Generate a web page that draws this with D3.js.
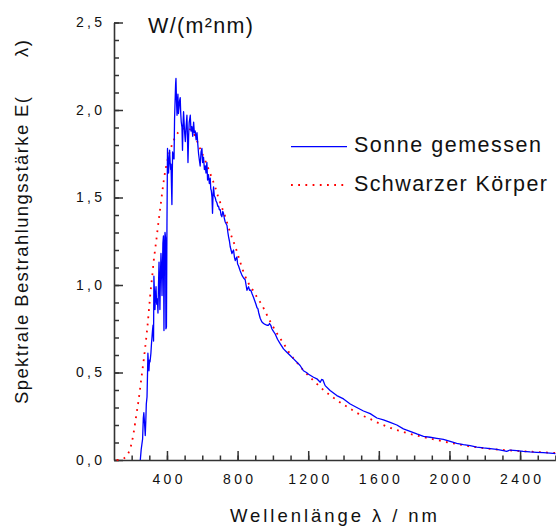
<!DOCTYPE html>
<html>
<head>
<meta charset="utf-8">
<script src="https://cdn.jsdelivr.net/npm/d3@7"></script>
<style>
  body { margin: 0; background: #fff; }
  text { font-family: "Liberation Sans", Arial, sans-serif; fill: #111; }
</style>
</head>
<body>
<div id="chart"></div>
<script>
// measured solar spectrum: [wavelength nm, E in W/(m²nm)]
const sunMeasured = [
  [249,0.00],[254,0.06],[258,0.09],[262,0.12],[266,0.24],[269,0.27],[273,0.21],[277,0.14],
  [280,0.22],[283,0.32],[287,0.36],[290,0.50],[292,0.61],[295,0.55],[298,0.51],[301,0.57],
  [304,0.56],[309,0.61],[312,0.66],[315,0.70],[318,0.74],[321,0.77],[324,0.68],[326,1.05],
  [329,0.96],[332,0.86],[335,0.95],[338,0.99],[341,0.90],[343,0.89],[346,0.92],[349,0.84],
  [352,1.00],[355,1.13],[358,0.98],[360,0.86],[363,1.05],[366,1.18],[369,1.10],[372,0.94],
  [375,1.12],[377,1.24],[380,1.28],[383,0.74],[386,1.20],[389,1.30],[392,1.27],[394,0.75],
  [397,0.76],[400,1.35],[403,1.78],[406,1.70],[409,1.64],[412,1.72],[415,1.77],[418,1.70],
  [421,1.66],[423,1.69],[426,1.55],[428,1.46],[430,1.62],[432,1.76],[436,1.73],[440,1.72],
  [443,1.95],[446,2.05],[449,2.15],[451,2.18],[454,2.05],[457,1.97],[460,2.06],[462,2.09],
  [465,1.98],[468,2.01],[471,2.05],[475,2.07],[478,1.98],[481,1.93],[485,1.90],[488,1.77],
  [491,1.92],[494,1.99],[497,1.93],[500,1.87],[504,1.82],[508,1.90],[513,1.97],[516,1.85],
  [519,1.70],[523,1.86],[526,1.93],[532,1.97],[536,1.88],[541,1.905],[546,1.85],[551,1.93],
  [555,1.87],[560,1.88],[565,1.83],[570,1.87],[575,1.80],[579,1.75],[584,1.71],[588,1.68],
  [593,1.76],[598,1.78],[602,1.70],[607,1.73],[612,1.66],[617,1.68],[621,1.64],[626,1.70],
  [630,1.60],[635,1.63],[640,1.58],[645,1.61],[648,1.55],[651,1.54],[655,1.50],[658,1.41],
  [661,1.52],[664,1.56],[668,1.51],[673,1.50],[678,1.48],[683,1.47],[688,1.45],[692,1.45],
  [697,1.43],[702,1.43],[706,1.40],[711,1.39],[716,1.42],[720,1.41],[725,1.38],[730,1.36],
  [735,1.35],[740,1.34],[745,1.30],[749,1.275],[754,1.25],[758,1.22],[763,1.20],[768,1.18],
  [772,1.19],[777,1.20],[782,1.16],[787,1.14],[791,1.15],[796,1.16],[800,1.12],[805,1.11],
  [815,1.08],[825,1.055],[834,1.04],[843,1.03],[848,1.00],[853,0.97],[857,0.98],[862,0.99],
  [868,0.97],[875,0.97],[882,0.95],[890,0.93],[897,0.91],[904,0.89],[910,0.87],[915,0.865],
  [920,0.84],[928,0.81],[937,0.79],[947,0.78],[956,0.775],[966,0.77],[975,0.77],[981,0.78],
  [988,0.77],[994,0.75],[1003,0.735],[1013,0.72],[1026,0.69],[1041,0.665],[1060,0.635],
  [1079,0.616],[1098,0.597],[1117,0.578],[1136,0.559],[1154,0.54],[1173,0.51],[1190,0.50],
  [1202,0.49],[1230,0.473],[1249,0.464],[1268,0.444],[1276,0.46],[1283,0.458],[1290,0.44],
  [1296,0.425],[1324,0.397],[1362,0.368],[1400,0.349],[1438,0.32],[1475,0.30],[1513,0.28],
  [1551,0.265],[1589,0.24],[1626,0.229],[1664,0.215],[1702,0.20],[1739,0.178],[1777,0.164],
  [1815,0.149],[1853,0.135],[1890,0.13],[1928,0.124],[1966,0.118],[2004,0.107],[2041,0.095],
  [2079,0.088],[2117,0.082],[2155,0.074],[2192,0.069],[2230,0.065],[2268,0.061],[2305,0.053],
  [2324,0.049],[2343,0.057],[2381,0.053],[2418,0.049],[2456,0.046],[2494,0.044],[2532,0.042],
  [2588,0.038],[2600,0.037]
];

// black body reference curve
const blackBody = [
  [115,0],[136,0.002],[150,0.006],[160,0.012],[174,0.027],[190,0.06],[202,0.105],[212,0.16],
  [221,0.22],[230,0.28],[239,0.34],[248,0.41],[258,0.49],[268,0.57],[277,0.645],[285,0.72],
  [292,0.79],[299,0.87],[305,0.94],[312,1.01],[318,1.065],[324,1.13],[330,1.18],[339,1.25],
  [352,1.36],[362,1.44],[372,1.52],[381,1.59],[390,1.65],[400,1.70],[414,1.755],[428,1.80],
  [447,1.845],[466,1.875],[490,1.893],[513,1.895],[541,1.88],[560,1.85],[579,1.80],[598,1.755],
  [617,1.71],[636,1.66],[655,1.61],[673,1.56],[688,1.51],[702,1.47],[716,1.43],[730,1.39],
  [744,1.345],[758,1.30],[772,1.26],[787,1.22],[801,1.175],[815,1.13],[839,1.06],[862,1.01],
  [890,0.965],[913,0.925],[938,0.885],[956,0.85],[975,0.81],[994,0.775],[1019,0.73],[1041,0.695],
  [1064,0.66],[1088,0.62],[1117,0.58],[1145,0.546],[1173,0.512],[1211,0.472],[1249,0.435],
  [1286,0.40],[1324,0.37],[1362,0.342],[1400,0.317],[1438,0.293],[1475,0.27],[1513,0.251],
  [1551,0.234],[1585,0.217],[1620,0.202],[1654,0.188],[1692,0.174],[1730,0.163],[1767,0.152],
  [1805,0.142],[1843,0.133],[1881,0.124],[1919,0.116],[1957,0.108],[1994,0.1],[2032,0.093],
  [2070,0.086],[2108,0.079],[2145,0.074],[2183,0.069],[2221,0.065],[2258,0.061],[2324,0.056],
  [2400,0.051],[2494,0.046],[2600,0.04]
];

const xMajorTicks = [400, 800, 1200, 1600, 2000, 2400];
const xTickLabels = ["400", "800", "1200", "1600", "2000", "2400"];
const yMajorTicks = [0, 0.5, 1.0, 1.5, 2.0, 2.5];
const yTickLabels = ["0,0", "0,5", "1,0", "1,5", "2,0", "2,5"];
const legendLabels = ["Sonne gemessen", "Schwarzer Körper"];

const W = 556, H = 526;
const margin = { top: 22.5, right: 0.6, bottom: 66, left: 114 };
const width = W - margin.left - margin.right;
const height = H - margin.top - margin.bottom;

const svg = d3.select("#chart").append("svg")
  .attr("width", W).attr("height", H);
const g = svg.append("g")
  .attr("transform", `translate(${margin.left},${margin.top})`);

const x = d3.scaleLinear().domain([100, 2600]).range([0, width]);
const y = d3.scaleLinear().domain([0, 2.5]).range([height, 0]);

const axisColor = "#333";
const ls = 3.3; // letter spacing of tick labels

// minor ticks first (no labels)
g.append("g")
  .attr("transform", `translate(0,${height})`)
  .call(d3.axisBottom(x).tickValues(d3.range(200, 2601, 100)).tickSize(-4.5).tickSizeOuter(0).tickFormat(""))
  .call(s => s.select(".domain").remove());
g.append("g")
  .call(d3.axisLeft(y).tickValues(d3.range(0, 2.51, 0.1)).tickSize(-5).tickSizeOuter(0).tickFormat(""))
  .call(s => s.select(".domain").remove());

// major ticks + labels
const xAxis = g.append("g")
  .attr("transform", `translate(0,${height})`)
  .call(d3.axisBottom(x).tickValues(xMajorTicks).tickSize(-9).tickSizeOuter(0).tickPadding(14)
    .tickFormat((d, i) => xTickLabels[i]));
xAxis.selectAll("text")
  .attr("font-size", 14).attr("letter-spacing", ls).attr("dx", ls / 2)
  .style("font-family", '"Liberation Sans", Arial, sans-serif');

const yAxis = g.append("g")
  .call(d3.axisLeft(y).tickValues(yMajorTicks).tickSize(-9).tickSizeOuter(0).tickPadding(12)
    .tickFormat((d, i) => yTickLabels[i]));
yAxis.selectAll("text")
  .attr("font-size", 14).attr("letter-spacing", ls).attr("dx", ls)
  .style("font-family", '"Liberation Sans", Arial, sans-serif');

svg.selectAll(".tick line").attr("stroke", axisColor).attr("stroke-width", 1.5);
svg.selectAll(".domain").attr("stroke", axisColor).attr("stroke-width", 1.6);
svg.selectAll(".tick text").attr("fill", "#111");

// curves
const line = d3.line().x(d => x(d[0])).y(d => y(d[1]));

g.append("path")
  .datum(blackBody)
  .attr("d", line.curve(d3.curveMonotoneX))
  .attr("fill", "none")
  .attr("stroke", "#ff0000")
  .attr("stroke-width", 1.8)
  .attr("stroke-dasharray", "1.8 5.4");

g.append("path")
  .datum(sunMeasured)
  .attr("d", d3.line().x(d => x(d[0])).y(d => y(d[1])))
  .attr("fill", "none")
  .attr("stroke", "#0000ff")
  .attr("stroke-width", 1.3)
  .attr("stroke-linejoin", "round");

// legend
const legend = svg.append("g");
legend.append("line")
  .attr("x1", 291).attr("x2", 347).attr("y1", 146.7).attr("y2", 146.7)
  .attr("stroke", "#0000ff").attr("stroke-width", 1.2);
legend.append("line")
  .attr("x1", 291).attr("x2", 347).attr("y1", 185).attr("y2", 185)
  .attr("stroke", "#ff0000").attr("stroke-width", 1.8).attr("stroke-dasharray", "1.8 5.4");
legend.append("text")
  .attr("x", 354).attr("y", 152.3).attr("font-size", 21.5)
  .attr("textLength", 187).attr("lengthAdjust", "spacing")
  .text(legendLabels[0]);
legend.append("text")
  .attr("x", 354).attr("y", 190.5).attr("font-size", 21.5)
  .attr("textLength", 193).attr("lengthAdjust", "spacing")
  .text(legendLabels[1]);

// unit label
svg.append("text")
  .attr("x", 148).attr("y", 33.3).attr("font-size", 21.5)
  .attr("textLength", 105).attr("lengthAdjust", "spacing")
  .text("W/(m²nm)");

// axis titles
svg.append("text")
  .attr("x", 230).attr("y", 521.7).attr("font-size", 18.5)
  .attr("textLength", 207).attr("lengthAdjust", "spacing")
  .text("Wellenlänge λ / nm");

svg.append("text")
  .attr("transform", "rotate(-90)")
  .attr("x", -404).attr("y", 28.3).attr("font-size", 18.5)
  .attr("textLength", 307).attr("lengthAdjust", "spacing")
  .text("Spektrale Bestrahlungsstärke E(");
svg.append("text")
  .attr("transform", "rotate(-90)")
  .attr("x", -57).attr("y", 28.3).attr("font-size", 18.5)
  .attr("textLength", 17).attr("lengthAdjust", "spacing")
  .text("λ)");
</script>
</body>
</html>
